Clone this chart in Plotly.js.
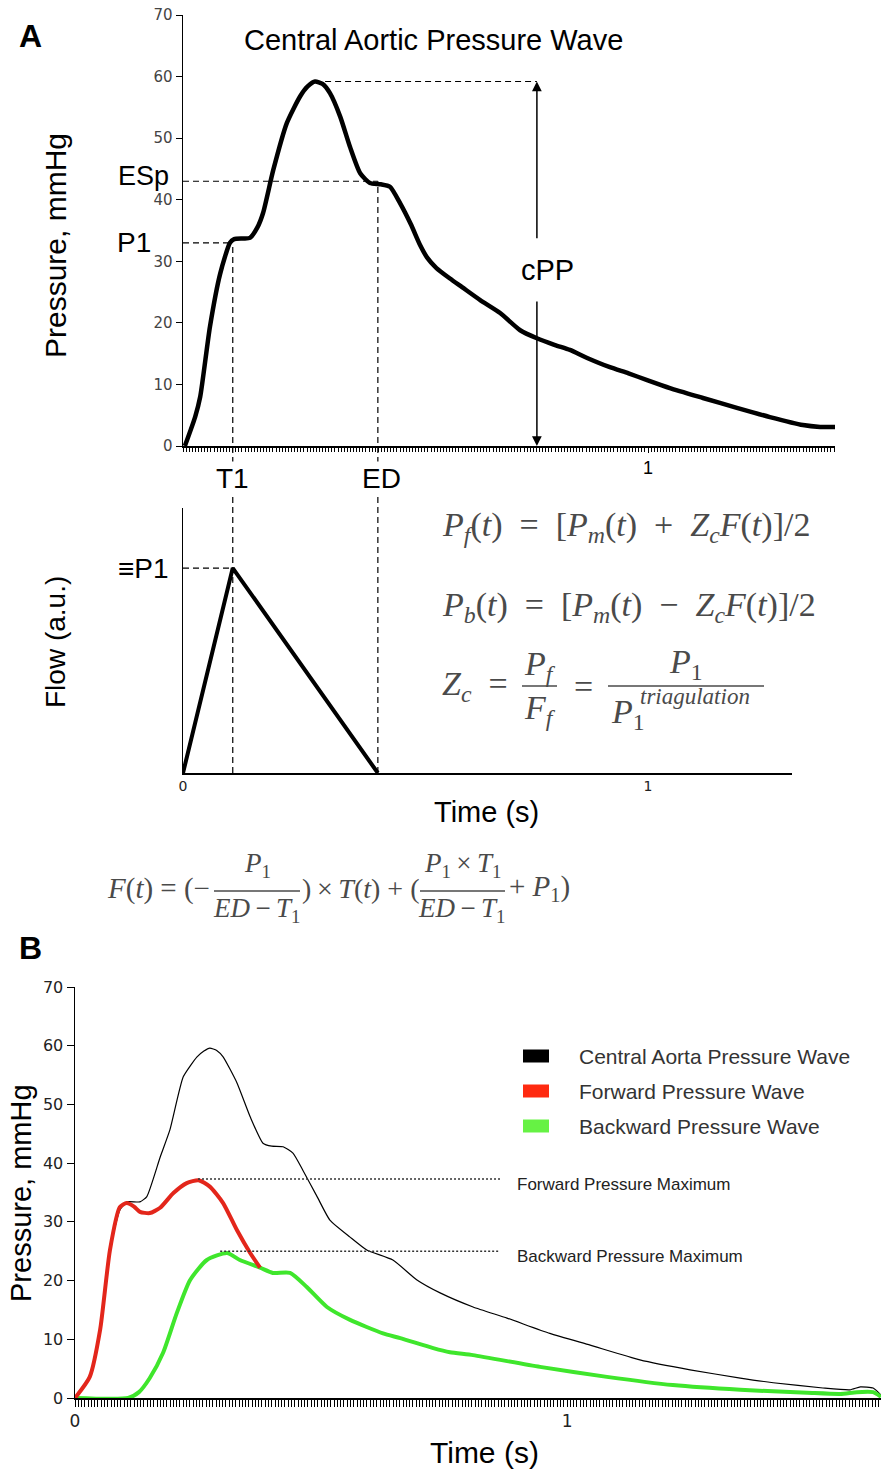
<!DOCTYPE html>
<html><head><meta charset="utf-8">
<script src="https://cdn.plot.ly/plotly-3.0.1.min.js"></script>
<style>html,body{margin:0;padding:0;background:#fff}#chart{width:881px;height:1470px}</style>
</head><body><div id="chart"></div>
<script>
// ---------- Data: Panel A, central aortic pressure wave ----------
const timeA = [0.004,0.026,0.037,0.058,0.080,0.101,0.110,0.130,0.144,0.160,0.172,0.194,0.223,0.252,0.268,0.284,0.300,0.316,0.338,0.359,0.381,0.402,0.425,0.445,0.467,0.490,0.510,0.525,0.545,0.574,0.600,0.639,0.682,0.725,0.761,0.800,0.832,0.869,0.918,0.958,0.998,1.047,1.118,1.191,1.262,1.333,1.370,1.402];
const pressureA = [0,4.7,8,19.4,28,33,33.6,33.7,33.8,35.5,37.8,44.8,52.4,56.8,58.4,59.2,58.8,57.3,53.5,48.6,44.3,42.7,42.5,42.1,39.4,36,32.6,30.6,28.9,27.2,25.8,23.7,21.6,18.8,17.5,16.4,15.6,14.3,12.8,11.8,10.7,9.4,7.8,6.2,4.7,3.4,3.1,3.1];
// landmarks
const T1 = 0.107, P1 = 33, ED = 0.419, ESp = 43, peakT = 0.284, peakP = 59.2, cppT = 0.761;
// ---------- Data: triangulated flow ----------
const timeFlow = [0, T1, ED];
const flowVals = [0, 1, 0];
// ---------- Data: Panel B ----------
const timeB = [0,0.030,0.051,0.071,0.091,0.105,0.132,0.146,0.173,0.193,0.220,0.248,0.262,0.274,0.288,0.301,0.329,0.356,0.382,0.400,0.423,0.443,0.463,0.492,0.518,0.559,0.593,0.646,0.695,0.742,0.809,0.878,0.965,1.047,1.148,1.250,1.352,1.419,1.520,1.575,1.596,1.622,1.638];
const centralB = [0,3.6,11.6,25.2,32,33.4,33.4,34.3,41,45.7,54.7,58.1,59.1,59.6,59.2,58.1,53.7,47.9,43.4,42.9,42.8,41.7,38.8,34.3,30.3,27.4,25.2,23.5,20.1,17.9,15.5,13.6,11,9,6.5,4.8,3.4,2.6,1.7,1.4,1.9,1.7,0.5];
const timeFwd = [0,0.030,0.051,0.071,0.091,0.105,0.120,0.132,0.152,0.173,0.200,0.227,0.251,0.274,0.301,0.329,0.356,0.376];
const forwardB = [0,3.6,11.6,25.2,32.5,33.2,32.6,31.7,31.5,32.4,34.9,36.6,37.1,36,33.2,28.6,24.7,22.2];
const timeBwd = [0,0.108,0.130,0.152,0.179,0.207,0.234,0.268,0.309,0.335,0.376,0.402,0.437,0.471,0.512,0.559,0.626,0.661,0.728,0.762,0.809,0.945,1.081,1.215,1.352,1.488,1.555,1.589,1.622,1.638];
const backwardB = [0,0,1.0,3.4,7.7,14.5,20.1,23.5,24.7,23.5,22.2,21.3,21.3,18.9,15.5,13.3,11,10.2,8.5,7.8,7.3,5.3,3.6,2.2,1.4,0.9,0.7,1.0,1.0,0.2];
const fwdMax = {t0:0.250, t1:0.864, p:37.3};
const bwdMax = {t0:0.295, t1:0.864, p:25.0};
const legendNames = ['Central Aorta Pressure Wave','Forward Pressure Wave','Backward Pressure Wave'];
const yTicks = [0,10,20,30,40,50,60,70];

// ---------- layout helpers ----------
const W = 881, H = 1470;
const px = x => x / W, py = y => 1 - y / H;
const RED = '#e3261b', GREEN = '#3fe62c', LRED = '#ff2a10', LGREEN = '#66f244';
const SANS = 'Liberation Sans, Arial, sans-serif';
const TICKF = 'DejaVu Sans, sans-serif';
const SERIF = 'Liberation Serif, Times New Roman, serif';
const EQC = '#4a4a4a';
const NB = '\u00a0', TH = '\u2009';

const domXA = [px(183), px(835)], domYA = [py(446), py(15)];
const domXF = [px(183), px(792)], domYF = [py(773), py(508)];
const domXB = [px(75), 1], domYB = [py(1398), py(987)];
const rangeYA = [0,70];
const yTopPaper = v => domYA[0] + (v - rangeYA[0]) / (rangeYA[1]-rangeYA[0]) * (domYA[1]-domYA[0]);

const traces = [
  {x: timeA, y: pressureA, xaxis:'x', yaxis:'y', mode:'lines', line:{color:'#000', width:4.5, shape:'spline', smoothing:0.6}},
  {x: timeFlow, y: flowVals, xaxis:'x2', yaxis:'y2', mode:'lines', line:{color:'#000', width:4}},
  {x: timeB, y: centralB, xaxis:'x3', yaxis:'y3', mode:'lines', line:{color:'#000', width:1.2, shape:'spline', smoothing:0.5}},
  {x: timeBwd, y: backwardB, xaxis:'x3', yaxis:'y3', mode:'lines', line:{color:GREEN, width:4, shape:'spline', smoothing:0.6}},
  {x: timeFwd, y: forwardB, xaxis:'x3', yaxis:'y3', mode:'lines', line:{color:RED, width:4, shape:'spline', smoothing:0.6}}
];

const axBase = {showgrid:false, zeroline:false, showline:true, linecolor:'#000', linewidth:1.5};
const tf = (s,c,f) => ({family:f||TICKF, size:s, color:c||'#000'});

const dash = {color:'#000', width:1.2, dash:'6px,4px'};
const dotted = {color:'#333', width:1.5, dash:'2px,2px'};
const eqLine = {color:EQC, width:1.5};
const shapes = [
  {type:'line', xref:'x', yref:'y', x0:0, x1:T1, y0:P1, y1:P1, line:dash},
  {type:'line', xref:'x', yref:'y', x0:0, x1:ED, y0:ESp, y1:ESp, line:dash},
  {type:'line', xref:'x', yref:'y', x0:peakT, x1:cppT, y0:peakP, y1:peakP, line:dash},
  {type:'line', xref:'x', yref:'paper', x0:T1, x1:T1, y0:domYF[0], y1:yTopPaper(P1), line:dash},
  {type:'line', xref:'x', yref:'paper', x0:ED, x1:ED, y0:domYF[0], y1:yTopPaper(ESp), line:dash},
  {type:'line', xref:'x2', yref:'y2', x0:0, x1:T1, y0:flowVals[1], y1:flowVals[1], line:dash},
  {type:'line', xref:'x3', yref:'y3', x0:fwdMax.t0, x1:fwdMax.t1, y0:fwdMax.p, y1:fwdMax.p, line:dotted},
  {type:'line', xref:'x3', yref:'y3', x0:bwdMax.t0, x1:bwdMax.t1, y0:bwdMax.p, y1:bwdMax.p, line:dotted},
  // fraction bars
  {type:'line', xref:'paper', yref:'paper', x0:px(522), x1:px(557), y0:py(686), y1:py(686), line:eqLine},
  {type:'line', xref:'paper', yref:'paper', x0:px(608), x1:px(764), y0:py(686), y1:py(686), line:eqLine},
  {type:'line', xref:'paper', yref:'paper', x0:px(214), x1:px(300), y0:py(891), y1:py(891), line:eqLine},
  {type:'line', xref:'paper', yref:'paper', x0:px(420), x1:px(505), y0:py(891), y1:py(891), line:eqLine}
];
// legend swatches
[['#000',1056],[LRED,1091],[LGREEN,1126]].forEach(([c,y]) => shapes.push(
  {type:'rect', xref:'paper', yref:'paper', x0:px(523), x1:px(549), y0:py(y+6.5), y1:py(y-6.5), fillcolor:c, line:{width:0}}));

const ann = [];
const txt = (x,y,text,size,opt) => ann.push(Object.assign({xref:'paper', yref:'paper', x:px(x), y:py(y), text, showarrow:false,
  xanchor:'center', yanchor:'middle', font:{family:SANS, size, color:'#000'}}, opt||{}));
const eq = (x,y,text,size,xa) => ann.push({xref:'paper', yref:'paper', x:px(x), y:py(y), text, showarrow:false,
  xanchor:xa||'center', yanchor:'middle', font:{family:SERIF, size, color:EQC}});

txt(30,36,'<b>A</b>',32);
txt(433,40,'Central Aortic Pressure Wave',29);
txt(55,246,'Pressure, mmHg',30,{textangle:-90});
txt(143,176,'ESp',27);
txt(134,243,'P1',28);
txt(232,478,'T1',28,{bgcolor:'#fff'});
txt(381,478,'ED',28,{bgcolor:'#fff'});
txt(547,270,'cPP',29);
txt(143,568,'\u2261P1',28);
txt(55,642,'Flow (a.u.)',28,{textangle:-90});
txt(486,812,'Time (s)',29);
txt(30,948,'<b>B</b>',32);
txt(21,1193,'Pressure, mmHg',29,{textangle:-90});
txt(484,1452,'Time (s)',30);
ann.push({xref:'x3', yref:'y3', x:fwdMax.t1+0.03, y:fwdMax.p, yshift:-5, text:'Forward Pressure Maximum', showarrow:false, xanchor:'left', yanchor:'middle', font:{family:SANS, size:17, color:'#222'}});
ann.push({xref:'x3', yref:'y3', x:bwdMax.t1+0.03, y:bwdMax.p, yshift:-5, text:'Backward Pressure Maximum', showarrow:false, xanchor:'left', yanchor:'middle', font:{family:SANS, size:17, color:'#222'}});
legendNames.forEach((n,i) => txt(577, 1056+35*i, n, 21, {xanchor:'left', font:{family:SANS, size:21, color:'#333'}}));

// cPP arrows
ann.push({xref:'x', yref:'y', axref:'x', ayref:'y', x:cppT, y:peakP, ax:cppT, ay:33.5, text:'', showarrow:true, arrowhead:2, arrowsize:1.3, arrowwidth:1.5, arrowcolor:'#000', standoff:0, startstandoff:0});
ann.push({xref:'x', yref:'y', axref:'x', ayref:'y', x:cppT, y:0, ax:cppT, ay:23.7, text:'', showarrow:true, arrowhead:2, arrowsize:1.3, arrowwidth:1.5, arrowcolor:'#000', standoff:0, startstandoff:0});

// equations
const I = s => '<i>'+s+'</i>';
const sp = op => NB+NB+op+NB+NB;
const Pf = I('P')+'<sub>'+I('f')+'</sub>', Pb = I('P')+'<sub>'+I('b')+'</sub>', Pm = I('P')+'<sub>'+I('m')+'</sub>';
const Zc = I('Z')+'<sub>'+I('c')+'</sub>', Ft = I('F')+'('+I('t')+')', tt = '('+I('t')+')';
const P_1 = I('P')+'<sub>1</sub>', T_1 = I('T')+'<sub>1</sub>';
eq(440,527, Pf+tt+sp('=')+'['+Pm+tt+sp('+')+Zc+Ft+']/2', 34, 'left');
eq(440,607, Pb+tt+sp('=')+'['+Pm+tt+sp('\u2212')+Zc+Ft+']/2', 34, 'left');
eq(440,686, Zc+NB+NB+'=', 34, 'left');
eq(540,666, Pf, 34);
eq(540,710, I('F')+'<sub>'+I('f')+'</sub>', 34);
eq(583,686, '=', 34);
eq(686,664, P_1, 34);
eq(609,714, P_1, 34, 'left');
eq(638,696, I('triagulation'), 23, 'left');
eq(212,888, Ft+NB+'='+NB+'(\u2212', 29, 'right');
eq(257,865, P_1, 27);
eq(257,910, I('ED')+TH+'\u2212'+TH+T_1, 27);
eq(360,888, ')'+TH+'\u00d7'+TH+I('T')+tt+NB+'+'+NB+'(', 28);
eq(462,865, P_1+TH+'\u00d7'+TH+T_1, 27);
eq(462,910, I('ED')+TH+'\u2212'+TH+T_1, 27);
eq(507,888, '+'+NB+P_1+')', 29, 'left');

const layout = {
  width:W, height:H, margin:{l:0,r:0,t:0,b:0}, showlegend:false,
  paper_bgcolor:'#fff', plot_bgcolor:'rgba(0,0,0,0)',
  xaxis: Object.assign({}, axBase, {domain:domXA, range:[0,1.402], anchor:'y', tickmode:'array', tickvals:[1], ticktext:['1'],
    ticks:'outside', ticklen:5, tickcolor:'#000', tickfont:tf(18,'#000',SANS),
    minor:{tickmode:'linear', tick0:0, dtick:1/150, ticks:'outside', ticklen:4, tickcolor:'#000', tickwidth:1}}),
  yaxis: Object.assign({}, axBase, {domain:domYA, range:rangeYA, anchor:'x', tickvals:yTicks, ticks:'outside', ticklen:6, tickcolor:'#000', tickfont:tf(15,'#444')}),
  xaxis2: Object.assign({}, axBase, {domain:domXF, range:[0,1.3097], anchor:'y2', tickmode:'array', tickvals:[0,1], ticktext:['0','1'], ticks:'', tickfont:tf(14,'#222')}),
  yaxis2: Object.assign({}, axBase, {domain:domYF, range:[0,1.293], anchor:'x2', showticklabels:false, ticks:''}),
  xaxis3: Object.assign({}, axBase, {domain:domXB, range:[0,1.638], anchor:'y3', tickmode:'array', tickvals:[0,1], ticktext:['0','1'],
    ticks:'outside', ticklen:7, tickcolor:'#000', tickfont:tf(17,'#222'),
    minor:{tickmode:'linear', tick0:0, dtick:1/150, ticks:'outside', ticklen:7, tickcolor:'#000', tickwidth:1}}),
  yaxis3: Object.assign({}, axBase, {domain:domYB, range:[0,70], anchor:'x3', tickvals:yTicks, ticks:'outside', ticklen:7, tickcolor:'#000', tickfont:tf(16,'#222')}),
  shapes, annotations: ann
};
Plotly.newPlot('chart', traces, layout, {staticPlot:true, displayModeBar:false});
</script></body></html>
